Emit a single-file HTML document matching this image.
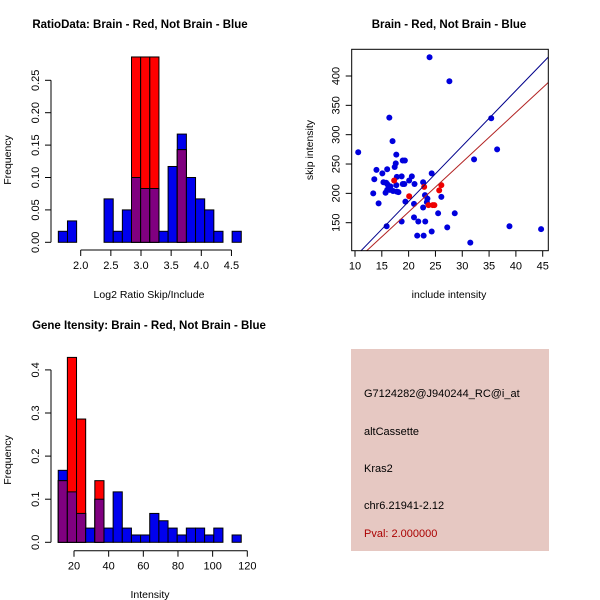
<!DOCTYPE html>
<html><head><meta charset="utf-8"><style>
body{margin:0;background:#fff}
svg{display:block;font-family:"Liberation Sans",sans-serif}
</style></head><body>
<svg id="s" width="600" height="600" viewBox="0 0 600 600">
<rect width="600" height="600" fill="#fff"/>
</svg>
<script>
// Ratio histogram data
const ratioBlue=[0.017,0.033,0,0,0,0.067,0.017,0.05,0.10,0.083,0.083,0.017,0.117,0.167,0.10,0.067,0.05,0.017,0,0.017];
const ratioRed=[0,0,0,0,0,0,0,0,0.286,0.286,0.286,0,0,0.143,0,0,0,0,0,0];
const ratioXTicks=[2.0,2.5,3.0,3.5,4.0,4.5];
const ratioYTicks=[0.00,0.05,0.10,0.15,0.20,0.25];
// Intensity histogram data
const intBlue=[0.167,0.117,0.067,0.033,0.10,0.033,0.117,0.033,0.017,0.017,0.067,0.05,0.033,0.017,0.033,0.033,0.017,0.033,0,0.017];
const intRed=[0.143,0.429,0.286,0,0.143,0,0,0,0,0,0,0,0,0,0,0,0,0,0,0];
const intXTicks=[20,40,60,80,100,120];
const intYTicks=[0.0,0.1,0.2,0.3,0.4];
// Scatter data
const blueX=[10.6,23.9,27.6,16.4,17.0,17.7,18.9,19.3,17.4,17.6,14.0,16.0,15.1,13.6,15.3,17.8,18.7,20.6,20.1,21.1,18.9,19.2,17.7,16.0,16.3,16.6,15.8,15.7,16.0,16.5,17.1,17.8,18.1,13.4,14.4,19.4,22.7,24.3,21.0,23.05,23.5,23.4,22.7,21.0,21.8,23.1,18.7,25.5,28.6,26.1,21.6,22.8,24.3,27.2,31.5,32.2,35.4,36.5,38.8,44.7,15.9];
const blueY=[270,432,391,329,289,266,256,256,245,251,240,241,234,224,219,228,229,229,222,216,216,216,214,216,212,212,218,201,206,206,204,203,202,200,183,186,219,234,182,197,191,185,176,159,152,152,152,166,166,194,128,128,135,142,116,258,328,275,144,139,144];
const redX=[17.3,22.9,20.1,23.7,24.5,24.8,25.7,26.1];
const redY=[222,211,195,180,180,180,205,214];
const fitBlue=[-2.9,9.45]; // intercept, slope
const fitRed=[-1.0,8.47];
const scXTicks=[10,15,20,25,30,35,40,45];
const scYTicks=[150,200,250,300,350,400];

const S=document.getElementById('s');
const NS='http://www.w3.org/2000/svg';
function mk(tag,attrs,parent){const e=document.createElementNS(NS,tag);for(const k in attrs)e.setAttribute(k,attrs[k]);(parent||S).appendChild(e);return e;}
function txt(x,y,t,opt,parent){const e=mk('text',Object.assign({x:x,y:y,'font-size':11,'text-anchor':'middle',fill:'#000'},opt||{}),parent);e.textContent=t;return e;}

function hist(g,blue,red,x0,bw,sx,sy,name){
  for(let i=0;i<blue.length;i++){
    const xa=sx(x0+i*bw), xb=sx(x0+(i+1)*bw);
    const b=blue[i], r=red[i];
    if(b>0){const e=mk('rect',{x:xa,y:sy(b),width:xb-xa,height:sy(0)-sy(b),fill:'#0000ee',stroke:'#000','stroke-width':1},g);
      
      }
    if(r>0){const e=mk('rect',{x:xa,y:sy(r),width:xb-xa,height:sy(0)-sy(r),fill:'#ff0000',stroke:'#000','stroke-width':1},g);
      
      }
    const m=Math.min(b,r);
    if(m>0){const e=mk('rect',{x:xa,y:sy(m),width:xb-xa,height:sy(0)-sy(m),fill:'#800080',stroke:'#000','stroke-width':1},g);
      
      }
  }
}
function yaxis(g,x,ticks,sy,fmt,name){
  const a=mk('g',{},g);
  
  
  mk('line',{x1:x,x2:x,y1:sy(ticks[0]),y2:sy(ticks[ticks.length-1]),stroke:'#000'},a);
  ticks.forEach(t=>{const y=sy(t);mk('line',{x1:x-6,x2:x,y1:y,y2:y,stroke:'#000'},a);
    txt(x-12,y,fmt(t),{transform:`rotate(-90 ${x-12} ${y})`},a);});
}
function xaxis(g,y,ticks,sx,fmt,name){
  const a=mk('g',{},g);
  
  
  mk('line',{x1:sx(ticks[0]),x2:sx(ticks[ticks.length-1]),y1:y,y2:y,stroke:'#000'},a);
  ticks.forEach(t=>{const x=sx(t);mk('line',{x1:x,x2:x,y1:y,y2:y+6,stroke:'#000'},a);txt(x,y+19,fmt(t),{},a);});
}

// Panel 1
{
const g=mk('g',{});


const sx=v=>80.7+(v-2.0)*60.3, sy=v=>242.3-v*648;
hist(g,ratioBlue,ratioRed,1.629,0.1517,sx,sy,'ratio');
yaxis(g,51,ratioYTicks,sy,v=>v.toFixed(2),'ratio-y-axis');
xaxis(g,250,ratioXTicks,sx,v=>v.toFixed(1),'ratio-x-axis');
const t=txt(140,28,'RatioData: Brain - Red, Not Brain - Blue',{'font-weight':'bold','font-size':11.5},g);

const xl=txt(149,298,'Log2 Ratio Skip/Include',{'font-size':10.5},g);

const yl=txt(11,160,'Frequency',{'font-size':10.5,transform:'rotate(-90 11 160)'},g);

}
// Panel 2 scatter
{
const g=mk('g',{});


const X0=351.7,X1=548.3,Y0=49.3,Y1=250.7;
const sx=v=>355+(v-10)*5.363, sy=v=>222.7-(v-150)*0.5868;
const cp=mk('clipPath',{id:'clp'},g);mk('rect',{x:X0,y:Y0,width:X1-X0,height:Y1-Y0},cp);
const pts=mk('g',{'clip-path':'url(#clp)'},g);
blueX.forEach((x,i)=>{const c=mk('circle',{cx:sx(x),cy:sy(blueY[i]),r:3,fill:'#0000dd'},pts);
  
  });
redX.forEach((x,i)=>{const c=mk('circle',{cx:sx(x),cy:sy(redY[i]),r:3,fill:'#ee0000'},pts);
  
  });
const xa=8,xb=48;
const lb=mk('line',{x1:sx(xa),y1:sy(fitBlue[0]+fitBlue[1]*xa),x2:sx(xb),y2:sy(fitBlue[0]+fitBlue[1]*xb),stroke:'#00008b'},pts);

const lr=mk('line',{x1:sx(xa),y1:sy(fitRed[0]+fitRed[1]*xa),x2:sx(xb),y2:sy(fitRed[0]+fitRed[1]*xb),stroke:'#b22222'},pts);

const box=mk('rect',{x:X0,y:Y0,width:X1-X0,height:Y1-Y0,fill:'none',stroke:'#000'},g);

const ya=mk('g',{},g);
scYTicks.forEach(t=>{const y=sy(t);mk('line',{x1:X0-6,x2:X0,y1:y,y2:y,stroke:'#000'},ya);txt(X0-12,y,String(t),{transform:`rotate(-90 ${X0-12} ${y})`},ya);});
const xax=mk('g',{},g);
scXTicks.forEach(t=>{const x=sx(t);mk('line',{x1:x,x2:x,y1:Y1,y2:Y1+6,stroke:'#000'},xax);txt(x,Y1+19,String(t),{},xax);});
const t=txt(449,28,'Brain - Red, Not Brain - Blue',{'font-weight':'bold','font-size':11.5},g);

const xl=txt(449,298,'include intensity',{'font-size':10.5},g);

const yl=txt(313,150,'skip intensity',{'font-size':10.5,transform:'rotate(-90 313 150)'},g);

}
// Panel 3
{
const g=mk('g',{});


const sx=v=>74+(v-20)*1.733, sy=v=>542.3-v*431;
hist(g,intBlue,intRed,10.9,5.28,sx,sy,'intensity');
yaxis(g,51,intYTicks,sy,v=>v.toFixed(1),'intensity-y-axis');
xaxis(g,550.7,intXTicks,sx,v=>String(v),'intensity-x-axis');
const t=txt(149,329,'Gene Itensity: Brain - Red, Not Brain - Blue',{'font-weight':'bold','font-size':11.5},g);

const xl=txt(150,598,'Intensity',{'font-size':10.5},g);

const yl=txt(11,460,'Frequency',{'font-size':10.5,transform:'rotate(-90 11 460)'},g);

}
// Panel 4 info box
{
const g=mk('g',{});


mk('rect',{x:351,y:349,width:198,height:202,fill:'#e6c8c2'},g);
const lines=[['G7124282@J940244_RC@i_at',397,'#000','probe-id'],['altCassette',435,'#000','event-type'],['Kras2',472,'#000','gene-name'],['chr6.21941-2.12',509,'#000','location'],['Pval: 2.000000',537,'#aa0000','p-value']];
lines.forEach(l=>{const e=txt(364,l[1],l[0],{'text-anchor':'start','font-size':11,fill:l[2]},g);
  });
}
</script>
</body></html>
